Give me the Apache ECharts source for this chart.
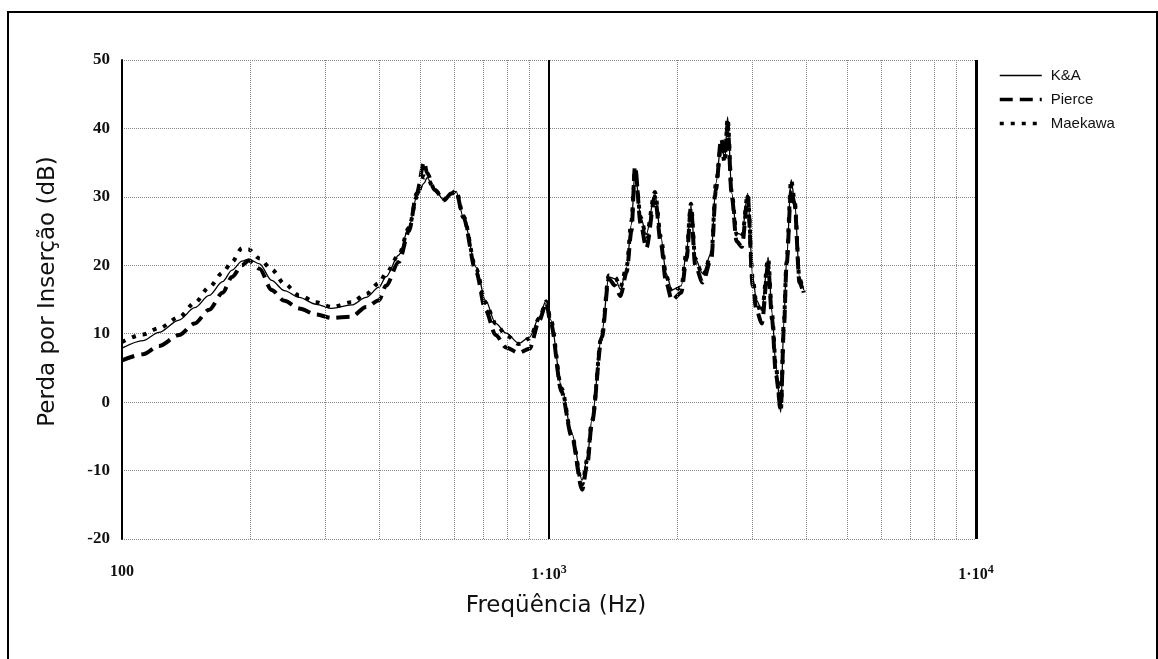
<!DOCTYPE html>
<html>
<head>
<meta charset="utf-8">
<script src="https://cdn.jsdelivr.net/npm/echarts@6/dist/echarts.min.js"></script>
<style>
  html, body { margin: 0; padding: 0; background: #fff; }
  #chart { width: 1158px; height: 659px; }
</style>
</head>
<body>
<div id="chart"></div>
<script>
// frequências (Hz)
const freq = [
  100, 112, 122, 136, 148, 160, 172, 181, 191, 198, 210, 224,
  240, 260, 285, 310, 345, 373, 400, 415, 445, 470, 490, 510,
  518, 540, 568, 590, 606, 630, 675, 710, 750, 793, 850, 900,
  950, 985, 1010, 1070, 1130, 1196, 1230, 1260, 1330, 1380, 1430, 1470,
  1520, 1560, 1590, 1640, 1690, 1770, 1830, 1880, 1940, 2040, 2100, 2150,
  2200, 2290, 2400, 2460, 2530, 2580, 2620, 2680, 2750, 2830, 2920, 3000,
  3060, 3150, 3260, 3330, 3400, 3490, 3550, 3600, 3690, 3760, 3860, 3950
]

// perda por inserção (dB)
const ka = [
  7.9, 9.0, 10.2, 12.0, 13.8, 15.6, 17.6, 19.3, 20.6, 20.9, 20.2, 17.8,
  16.3, 15.3, 14.3, 13.7, 14.2, 15.3, 16.8, 18.3, 21.5, 25.6, 30.0, 32.0,
  32.8, 31.0, 29.5, 30.3, 30.8, 27.0, 19.7, 14.9, 11.5, 10.1, 8.6, 9.5,
  12.5, 14.9, 12.0, 2.2, -4.5, -11.4, -8.0, -2.6, 10.1, 18.3, 18.0, 16.5,
  19.7, 26.0, 33.9, 27.0, 24.5, 30.5, 24.0, 18.8, 16.4, 17.0, 22.0, 28.8,
  21.0, 18.8, 21.8, 32.0, 37.9, 35.4, 41.7, 30.5, 24.7, 24.5, 30.5, 18.3,
  14.9, 13.5, 21.2, 13.0, 5.1, -1.5, 12.0, 20.8, 32.5, 29.5, 18.3, 16.4
]
const pierce = [
  6.1, 7.0, 8.2, 9.8, 11.5, 13.5, 16.0, 18.3, 20.0, 20.7, 19.5, 16.4,
  14.8, 13.7, 12.8, 12.3, 12.5, 13.9, 14.9, 17.0, 20.5, 25.0, 30.5, 35.1,
  33.5, 31.0, 29.5, 30.5, 30.8, 27.0, 19.0, 13.5, 9.8, 8.0, 7.2, 7.8,
  12.0, 14.5, 11.5, 1.5, -5.0, -12.8, -9.0, -3.0, 9.5, 18.0, 17.0, 15.5,
  19.0, 25.0, 34.5, 26.0, 22.5, 30.0, 23.0, 17.5, 14.9, 16.0, 21.0, 28.5,
  20.0, 17.5, 21.0, 31.0, 38.5, 36.0, 40.5, 30.0, 23.5, 22.7, 30.0, 17.0,
  13.5, 11.5, 20.0, 12.0, 4.0, -1.0, 11.0, 20.0, 31.0, 29.0, 17.5, 15.7
]
const maekawa = [
  8.8, 9.9, 10.8, 12.4, 14.5, 16.8, 18.9, 20.5, 22.5, 22.3, 21.0, 19.4,
  17.3, 15.6, 14.6, 13.9, 14.6, 15.8, 17.4, 18.8, 21.5, 25.5, 30.0, 33.0,
  32.8, 31.0, 29.7, 30.3, 31.0, 27.2, 19.5, 14.5, 11.5, 9.8, 8.5, 9.3,
  12.3, 14.7, 12.0, 2.0, -4.8, -12.0, -8.3, -2.8, 10.0, 18.5, 18.2, 16.8,
  19.8, 26.5, 34.0, 27.0, 24.2, 30.7, 24.0, 18.5, 16.0, 16.8, 22.0, 29.0,
  21.0, 18.5, 21.5, 32.0, 37.5, 35.0, 41.5, 30.5, 24.5, 24.0, 30.3, 18.0,
  14.5, 13.0, 21.0, 12.8, 5.0, -1.3, 12.0, 20.5, 32.5, 29.5, 18.0, 16.0
]

// linhas de grade do eixo log
const minorGrid = [200, 300, 400, 500, 600, 700, 800, 900, 2000, 3000, 4000, 5000, 6000, 7000, 8000, 9000]
const majorGrid = [1000, 10000]

const pairs = (vals) => freq.map((f, i) => [f, vals[i]])

const chart = echarts.init(document.getElementById('chart'))
chart.setOption({
  animation: false,
  backgroundColor: '#fff',
  graphic: [{
    type: 'rect',
    shape: { x: 8, y: 12, width: 1149, height: 660 },
    style: { fill: 'none', stroke: '#000', lineWidth: 2 },
    silent: true
  }],
  grid: { left: 122, right: 182, top: 60, bottom: 120 },
  legend: {
    orient: 'vertical',
    left: 993,
    top: 63,
    itemWidth: 42,
    itemHeight: 14,
    itemGap: 9,
    itemStyle: { opacity: 0 },
    textStyle: { fontFamily: 'Liberation Sans', fontSize: 15, color: '#111', padding: [0, 0, 0, 4] },
    data: [
      { name: 'K&A', lineStyle: { width: 1.3 } },
      { name: 'Pierce', lineStyle: { width: 3.5 } },
      { name: 'Maekawa', lineStyle: { width: 3.5 } }
    ]
  },
  xAxis: {
    type: 'log',
    logBase: 10,
    min: 100,
    max: 10000,
    name: 'Freqüência (Hz)',
    nameLocation: 'middle',
    nameGap: 56,
    nameTextStyle: { fontFamily: 'DejaVu Sans', fontSize: 23, color: '#111', padding: [0, 0, 0, 14] },
    axisLine: { show: false },
    axisTick: { show: false },
    splitLine: { show: false },
    axisLabel: {
      margin: 25,
      color: '#111',
      fontFamily: 'Liberation Serif',
      fontWeight: 'bold',
      fontSize: 16,
      formatter: function (v) {
        if (v <= 100) return '100'
        return '{b|1·10}{s|' + Math.round(Math.log10(v)) + '}'
      },
      rich: {
        b: { fontFamily: 'Liberation Serif', fontWeight: 'bold', fontSize: 16, color: '#111' },
        s: { fontFamily: 'Liberation Serif', fontSize: 12, color: '#111', padding: [0, 0, 10, 0] }
      }
    }
  },
  yAxis: {
    type: 'value',
    min: -20,
    max: 50,
    interval: 10,
    name: 'Perda por Inserção (dB)',
    nameLocation: 'middle',
    nameGap: 62,
    nameTextStyle: { fontFamily: 'DejaVu Sans', fontSize: 23, color: '#111', padding: [0, 0, 0, 16] },
    axisLine: { show: true, lineStyle: { color: '#000', width: 2 } },
    axisTick: { show: false },
    axisLabel: {
      margin: 12,
      color: '#111',
      fontFamily: 'Liberation Serif',
      fontWeight: 'bold',
      fontSize: 17
    },
    splitLine: { show: true, lineStyle: { color: '#888', type: 'dotted', width: 1 } }
  },
  series: [
    {
      name: 'K&A',
      type: 'line',
      data: pairs(ka),
      symbol: 'none',
      smooth: 0.3,
      smoothMonotone: 'x',
      lineStyle: { color: '#000', width: 1.3 },
      itemStyle: { color: '#000' },
      z: 4,
      markLine: {
        silent: true,
        symbol: 'none',
        label: { show: false },
        lineStyle: { color: '#888', type: 'dotted', width: 1 },
        data: minorGrid.map(f => ({ xAxis: f }))
          .concat(majorGrid.map(f => ({ xAxis: f, lineStyle: { color: '#000', type: 'solid', width: f === 10000 ? 3 : 2 } })))
      }
    },
    {
      name: 'Pierce',
      type: 'line',
      data: pairs(pierce),
      symbol: 'none',
      smooth: 0.3,
      smoothMonotone: 'x',
      lineStyle: { color: '#000', width: 4, type: [13, 7] },
      itemStyle: { color: '#000' },
      z: 3
    },
    {
      name: 'Maekawa',
      type: 'line',
      data: pairs(maekawa),
      symbol: 'none',
      smooth: 0.3,
      smoothMonotone: 'x',
      lineStyle: { color: '#000', width: 4, type: [4, 7] },
      itemStyle: { color: '#000' },
      z: 3
    }
  ]
})
</script>
</body>
</html>
